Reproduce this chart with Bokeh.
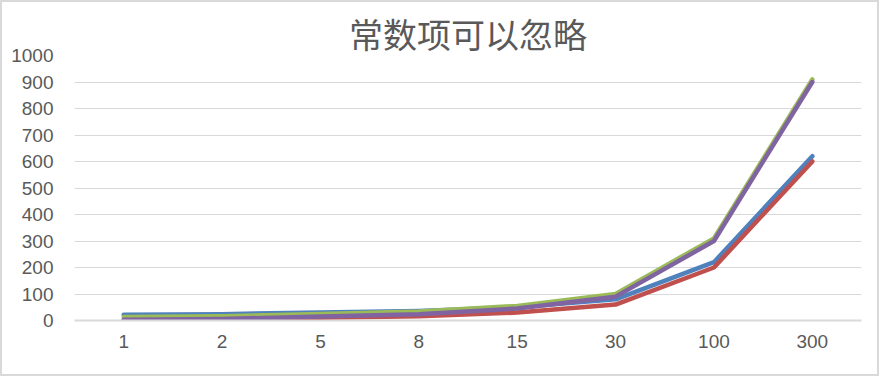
from bokeh.plotting import figure
from bokeh.embed import file_html
from bokeh.resources import INLINE
from bokeh.models import FixedTicker, Range1d

categories = ["1", "2", "5", "8", "15", "30", "100", "300"]
series_a = [22, 24, 30, 36, 50, 80, 220, 620]      # 2n+20 (blue)
series_b = [2, 4, 10, 16, 30, 60, 200, 600]        # 2n (red)
series_c = [13, 16, 25, 34, 55, 100, 310, 910]     # 3n+10 (green)
series_d = [3, 6, 15, 24, 45, 90, 300, 900]        # 3n (purple)
y_ticks = list(range(0, 1001, 100))
title_text = "常数项可以忽略"

colors = ["#4F81BD", "#C0504D", "#9BBB59", "#8064A2"]

p = figure(width=879, height=376, x_range=categories, y_range=Range1d(0, 1000),
           output_backend="svg", toolbar_location=None,
           min_border_left=72, min_border_right=20, min_border_top=53, min_border_bottom=58)
p.title.text = title_text
p.title.align = "center"
p.title.text_font = "Noto Sans CJK SC"
p.title.text_font_size = "34px"
p.title.text_font_style = "normal"
p.title.text_color = "#595959"
p.title.standoff = -5

for ys, c in zip([series_a, series_b, series_c, series_d], colors):
    p.line(categories, ys, line_color=c, line_width=4.5, line_join="round", line_cap="round")

p.outline_line_color = None
p.xgrid.grid_line_color = None
p.ygrid.grid_line_color = "#D9D9D9"
p.ygrid.grid_line_width = 1
p.yaxis.ticker = FixedTicker(ticks=y_ticks)
p.yaxis.axis_line_color = None
p.yaxis.major_tick_line_color = None
p.yaxis.minor_tick_line_color = None
p.yaxis.major_label_standoff = 15
p.xaxis.axis_line_color = "#D9D9D9"
p.xaxis.axis_line_width = 2
p.xaxis.major_tick_line_color = None
p.xaxis.minor_tick_line_color = None
p.xaxis.major_label_standoff = 8
for ax in (p.xaxis, p.yaxis):
    ax.major_label_text_font = "Liberation Sans"
    ax.major_label_text_font_size = "19px"
    ax.major_label_text_color = "#595959"
p.styles = {"border": "2px solid #D9D9D9", "box-sizing": "border-box"}

open("out.html", "w").write(file_html(p, INLINE))
